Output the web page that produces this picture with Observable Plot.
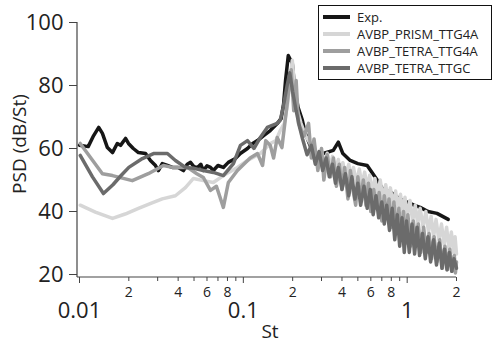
<!DOCTYPE html>
<html><head><meta charset="utf-8">
<script src="https://cdn.jsdelivr.net/npm/d3@7"></script>
<script src="https://cdn.jsdelivr.net/npm/@observablehq/plot@0.6"></script>
<style>body{margin:0;background:#fff}#chart{width:494px;height:344px}</style>
</head><body><div id="chart"></div>
<script>
const seriesNames = ["Exp.", "AVBP_PRISM_TTG4A", "AVBP_TETRA_TTG4A", "AVBP_TETRA_TTGC"];
const seriesColors = ["#161616", "#d6d6d6", "#9e9e9e", "#6b6b6b"];

// [St, PSD dB/St]
const expData = [[0.0100,61.0],[0.0113,60.6],[0.0122,64.1],[0.0131,66.7],[0.0138,64.8],[0.0148,60.3],[0.0159,58.7],[0.0170,61.6],[0.0178,61.0],[0.0191,63.2],[0.0199,61.6],[0.0213,60.0],[0.0229,58.7],[0.0253,58.4],[0.0271,56.2],[0.0291,54.6],[0.0303,53.0],[0.0320,55.2],[0.0344,54.6],[0.0369,54.0],[0.0400,54.0],[0.0431,53.0],[0.0455,55.0],[0.0476,55.6],[0.0500,54.2],[0.0525,54.0],[0.0550,55.0],[0.0570,53.0],[0.0600,54.5],[0.0630,54.0],[0.0656,53.0],[0.0700,54.6],[0.0755,54.0],[0.0810,55.6],[0.0894,56.8],[0.0958,58.4],[0.106,60.0],[0.114,61.6],[0.122,62.5],[0.133,64.1],[0.146,65.7],[0.161,67.9],[0.170,69.5],[0.176,74.0],[0.181,81.6],[0.188,89.5],[0.199,87.0],[0.207,78.0],[0.216,73.0],[0.229,69.0],[0.239,64.8],[0.260,60.0],[0.280,58.4],[0.307,58.4],[0.354,59.4],[0.380,62.0],[0.405,58.4],[0.449,56.2],[0.500,55.2],[0.570,54.6],[0.656,50.0],[0.710,47.0],[0.800,46.0],[0.900,44.0],[1.00,43.0],[1.10,42.0],[1.20,41.3],[1.34,40.0],[1.52,39.4],[1.78,37.5]];

const prismData = [[0.0101,42.0],[0.0125,39.8],[0.0159,37.8],[0.0190,39.2],[0.0229,41.0],[0.0270,42.5],[0.0320,44.0],[0.0385,45.0],[0.0443,47.6],[0.0496,50.5],[0.0570,49.8],[0.0656,49.2],[0.0755,51.4],[0.0920,54.0],[0.106,56.2],[0.127,58.4],[0.146,61.6],[0.158,62.5],[0.168,65.7],[0.178,68.0],[0.186,74.0],[0.193,82.0],[0.199,88.0],[0.206,79.0],[0.214,72.0],[0.225,68.0],[0.240,64.0],[0.260,61.0],[0.275,59.0],[0.29,57],[0.30,59.5],[0.31,55.5],[0.325,58.5],[0.34,54],[0.35,57.5],[0.365,53.5],[0.38,56.5],[0.39,52],[0.405,55.5],[0.42,51],[0.44,55],[0.455,50.5],[0.47,54],[0.49,49],[0.51,53.5],[0.53,48.5],[0.55,52.5],[0.57,47.5],[0.59,51.5],[0.61,46],[0.635,50.5],[0.66,45.5],[0.685,50],[0.71,44],[0.74,48.5],[0.765,43],[0.79,47.5],[0.82,42],[0.85,46.5],[0.88,40.5],[0.91,45.5],[0.94,39.5],[0.97,44.5],[1.0,38.5],[1.04,43.5],[1.08,37],[1.12,42],[1.16,36],[1.2,41],[1.25,35],[1.3,40],[1.35,33.5],[1.4,38.5],[1.45,32],[1.5,37.5],[1.56,31],[1.62,36],[1.68,29.5],[1.74,35],[1.8,28],[1.86,33.5],[1.92,27],[1.96,32],[2.0,26.5]];

const tetraG4aData = [[0.0101,61.6],[0.0138,52.0],[0.0159,51.4],[0.0210,49.8],[0.0263,52.0],[0.0325,54.6],[0.0369,54.0],[0.0456,54.0],[0.0520,52.0],[0.0570,50.8],[0.0630,46.7],[0.0685,48.0],[0.0755,41.3],[0.0810,49.2],[0.0920,53.0],[0.110,57.0],[0.122,58.4],[0.131,54.6],[0.137,62.5],[0.146,61.0],[0.153,57.0],[0.161,63.5],[0.172,60.3],[0.183,72.0],[0.190,79.0],[0.196,85.0],[0.203,72.0],[0.210,81.6],[0.217,68.0],[0.225,66.0],[0.235,64],[0.25,68],[0.26,57],[0.27,63],[0.285,53],[0.30,60],[0.31,50],[0.325,58],[0.34,51],[0.355,57],[0.37,48],[0.385,55],[0.40,47],[0.415,54],[0.435,44],[0.45,53],[0.47,46],[0.485,42],[0.50,51],[0.52,44],[0.54,50],[0.56,42],[0.58,49],[0.60,40],[0.625,47],[0.65,41],[0.675,46],[0.70,37],[0.725,45],[0.75,38],[0.775,44],[0.80,35],[0.83,43],[0.86,34],[0.89,41],[0.92,32],[0.95,40],[0.98,30],[1.01,39],[1.05,29],[1.09,37],[1.13,30],[1.17,36],[1.21,27],[1.26,35],[1.31,27],[1.36,33],[1.41,25],[1.46,32],[1.52,24],[1.58,31],[1.64,22],[1.70,29],[1.76,21.5],[1.82,28],[1.88,21],[1.94,26],[1.97,20.5],[2.0,24]];

const tetraGcData = [[0.0101,57.8],[0.0120,51.0],[0.0140,45.7],[0.0160,48.5],[0.0180,51.5],[0.0200,54.0],[0.0242,56.8],[0.0283,58.4],[0.0344,58.4],[0.0385,56.2],[0.0443,54.0],[0.0500,53.7],[0.0570,53.0],[0.0656,52.4],[0.0755,51.4],[0.0870,55.2],[0.0960,61.0],[0.106,62.5],[0.116,60.0],[0.127,63.5],[0.140,66.7],[0.161,68.0],[0.168,69.0],[0.175,73.0],[0.185,80.0],[0.192,84.0],[0.200,78.0],[0.210,72.0],[0.220,67.0],[0.23,63],[0.245,58],[0.26,61],[0.275,55],[0.29,59],[0.305,53],[0.32,57],[0.335,51],[0.35,55],[0.365,49],[0.38,54],[0.40,47],[0.42,52],[0.44,45],[0.46,51],[0.48,44],[0.50,49],[0.52,42],[0.545,48],[0.57,41],[0.595,47],[0.62,39],[0.645,45],[0.67,38],[0.70,43],[0.725,36],[0.75,42],[0.78,34],[0.81,41],[0.84,31],[0.87,39],[0.90,29],[0.93,38],[0.96,27],[0.99,37],[1.03,27],[1.07,36],[1.11,26.5],[1.15,35],[1.19,26],[1.24,33],[1.29,25],[1.34,32],[1.39,24],[1.45,31],[1.51,23],[1.57,30],[1.63,22],[1.69,28],[1.75,21.5],[1.81,27],[1.87,21],[1.93,25],[2.0,22]];

const yTicks = [20, 40, 60, 80, 100];
const xMajorTicks = [0.01, 0.1, 1];
const xMajorLabels = ["0.01", "0.1", "1"];
const xMinorTicks = [0.02,0.03,0.04,0.05,0.06,0.07,0.08,0.09,0.2,0.3,0.4,0.5,0.6,0.7,0.8,0.9,2];
const xMinorLabelTicks = [0.02,0.04,0.06,0.08,0.2,0.4,0.6,0.8,2];
const xMinorLabels = ["2","4","6","8","2","4","6","8","2"];
const xTitle = "St";
const yTitle = "PSD (dB/St)";

const allData = [expData, prismData, tetraG4aData, tetraGcData];
const drawOrder = [0, 1, 2, 3];
const FONT = "'Open Sans', sans-serif";

const chart = Plot.plot({
  width: 494, height: 344,
  marginLeft: 77, marginRight: 38, marginTop: 22, marginBottom: 67,
  style: {fontFamily: FONT, color: "#222", background: "white"},
  x: {type: "log", domain: [0.01, 2], range: [79, 456]},
  y: {domain: [20, 100], range: [274, 22]},
  marks: [
    ...drawOrder.map(i => Plot.line(allData[i], {x: d => d[0], y: d => d[1], stroke: seriesColors[i], strokeWidth: 3.5, strokeLinejoin: "round"})),
    Plot.axisY({ticks: yTicks, tickSize: 8, tickPadding: 6, fontSize: 22, tickFormat: d => String(d), label: null, stroke: "#444"}),
    Plot.axisX({ticks: xMajorTicks, tickSize: 6, tickFormat: () => "", label: null, stroke: "#444"}),
    Plot.axisX({ticks: xMinorTicks, tickSize: 4, tickFormat: () => "", label: null, stroke: "#444"}),
    Plot.text(xMajorTicks, {x: d => d, text: (d, i) => xMajorLabels[i], frameAnchor: "bottom", lineAnchor: "top", dy: 25, fontSize: 22, fill: "#222"}),
    Plot.text(xMinorLabelTicks, {x: d => d, text: (d, i) => xMinorLabels[i], frameAnchor: "bottom", lineAnchor: "top", dy: 10, fontSize: 14, fill: "#222"})
  ]
});
document.getElementById("chart").appendChild(chart);

const svg = d3.select(chart);
// axis lines
svg.append("line").attr("x1", 77).attr("x2", 77).attr("y1", 22).attr("y2", 277).attr("stroke", "#444").attr("stroke-width", 1.2);
svg.append("line").attr("x1", 77).attr("x2", 456).attr("y1", 277).attr("y2", 277).attr("stroke", "#444").attr("stroke-width", 1.2);
// titles
svg.append("text").attr("x", 270).attr("y", 338).attr("text-anchor", "middle")
  .attr("font-family", FONT).attr("font-size", 19).attr("fill", "#222").text(xTitle);
svg.append("text").attr("transform", "translate(26,144) rotate(-90)").attr("text-anchor", "middle")
  .attr("font-family", FONT).attr("font-size", 19).attr("fill", "#222").text(yTitle);
// legend
const lg = svg.append("g");
lg.append("rect").attr("x", 318.5).attr("y", 5.5).attr("width", 173).attr("height", 74)
  .attr("fill", "white").attr("stroke", "#111").attr("stroke-width", 1);
seriesNames.forEach((name, i) => {
  const y = 17 + i * 17;
  lg.append("line").attr("x1", 323).attr("x2", 350).attr("y1", y).attr("y2", y)
    .attr("stroke", seriesColors[i]).attr("stroke-width", 4);
  lg.append("text").attr("x", 357).attr("y", y).attr("dy", "0.36em").attr("text-anchor", "start")
    .attr("font-family", FONT).attr("font-size", 13).attr("fill", "#222").text(name);
});
</script>
</body></html>
